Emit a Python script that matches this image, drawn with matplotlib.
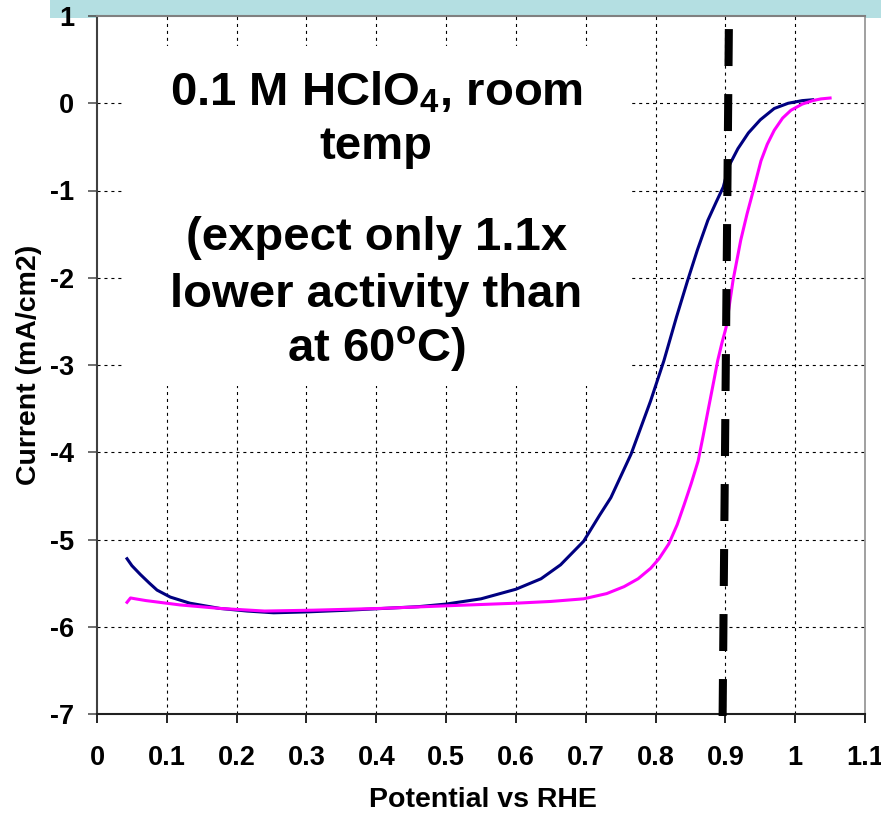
import matplotlib
matplotlib.use("Agg")
import matplotlib.pyplot as plt
from matplotlib.patches import Rectangle

plt.rcParams["font.family"] = ["Liberation Sans", "DejaVu Sans"]
plt.rcParams["font.weight"] = "bold"
plt.rcParams["mathtext.fontset"] = "custom"
plt.rcParams["mathtext.rm"] = "Liberation Sans:bold"
plt.rcParams["mathtext.it"] = "Liberation Sans:bold"
plt.rcParams["mathtext.bf"] = "Liberation Sans:bold"
plt.rcParams["lines.scale_dashes"] = False
plt.rcParams["axes.unicode_minus"] = False

# polarisation curves, potential (V vs RHE) and current (mA/cm2)
navy_x = [0.043, 0.05, 0.062, 0.075, 0.086, 0.105, 0.133, 0.176, 0.215, 0.253,
          0.30, 0.36, 0.41, 0.46, 0.50, 0.55, 0.60, 0.636, 0.664, 0.697,
          0.72, 0.736, 0.765, 0.793, 0.812, 0.83, 0.846, 0.86, 0.875, 0.887,
          0.897, 0.905, 0.918, 0.933, 0.95, 0.97, 0.99, 1.01, 1.025]
navy_y = [-5.22, -5.30, -5.40, -5.50, -5.58, -5.66, -5.73, -5.79, -5.82, -5.84,
          -5.83, -5.81, -5.79, -5.77, -5.74, -5.68, -5.57, -5.45, -5.29, -5.02,
          -4.72, -4.52, -4.02, -3.41, -2.95, -2.45, -2.03, -1.68, -1.34, -1.13,
          -0.96, -0.72, -0.52, -0.34, -0.19, -0.06, 0.0, 0.03, 0.04]

pink_x = [0.043, 0.048, 0.055, 0.07, 0.119, 0.176, 0.24, 0.31, 0.406, 0.50,
          0.60, 0.65, 0.697, 0.73, 0.755, 0.775, 0.793, 0.805, 0.819, 0.831,
          0.841, 0.851, 0.861, 0.868, 0.875, 0.884, 0.889, 0.895, 0.901, 0.906,
          0.911, 0.922, 0.931, 0.940, 0.951, 0.96, 0.970, 0.982, 0.994, 1.01,
          1.025, 1.037, 1.05]
pink_y = [-5.72, -5.67, -5.68, -5.70, -5.75, -5.79, -5.82, -5.81, -5.79, -5.76,
          -5.73, -5.71, -5.68, -5.62, -5.54, -5.45, -5.33, -5.22, -5.05, -4.83,
          -4.60, -4.36, -4.10, -3.82, -3.53, -3.16, -2.95, -2.75, -2.57, -2.30,
          -2.03, -1.57, -1.27, -1.0, -0.66, -0.47, -0.31, -0.17, -0.08, -0.01,
          0.03, 0.05, 0.06]

# reference potential marker (slightly slanted, as hand drawn)
marker_x = [0.905, 0.896]
marker_y = [0.85, -7.07]

x_ticks = [0, 0.1, 0.2, 0.3, 0.4, 0.5, 0.6, 0.7, 0.8, 0.9, 1.0, 1.1]
x_ticklabels = ["0", "0.1", "0.2", "0.3", "0.4", "0.5", "0.6", "0.7", "0.8",
                "0.9", "1", "1.1"]
y_ticks = [-7, -6, -5, -4, -3, -2, -1, 0, 1]

fig = plt.figure(figsize=(8.81, 8.18), dpi=100)

# slide title strip behind the top edge
fig.patches.append(Rectangle((50 / 881, 1 - 18 / 818), 1 - 50 / 881, 18 / 818,
                             transform=fig.transFigure, facecolor="#b4dfe2",
                             edgecolor="none", zorder=-1))

ax = fig.add_axes([97 / 881, 104 / 818, 768 / 881, 698 / 818])
ax.set_xlim(0, 1.1)
ax.set_ylim(-7, 1)

for x in x_ticks[1:-1]:
    ax.axvline(x, color="black", lw=0.8, dashes=(2.2, 2.8), zorder=0.5)
for y in y_ticks[1:-1]:
    ax.axhline(y, color="black", lw=0.8, dashes=(2.2, 2.8), zorder=0.5)

# white text box hides the grid behind the annotation
ax.add_patch(Rectangle((0.040, -3.24), 0.725, 3.895, facecolor="white",
                       edgecolor="none", zorder=1))

ax.plot(navy_x, navy_y, color="#000080", lw=2.2, zorder=3)
ax.plot(pink_x, pink_y, color="#ff00ff", lw=2.2, zorder=3)
ax.plot(marker_x, marker_y, color="black", lw=5.8, dashes=(26.6, 20.2),
        solid_capstyle="butt", zorder=4, clip_on=False)

ann = dict(ha="center", va="baseline", fontsize=34, fontweight="bold", zorder=2)
ax.text(0.4, -0.023, r"0.1 M HClO$_4$, room", **ann)
ax.text(0.4, -0.64, "temp", **ann)
ax.text(0.4, -1.68, "(expect only 1.1x", **ann)
ax.text(0.4, -2.33, "lower activity than", **ann)
ax.text(0.4, -2.96, r"at 60$^o$C)", **ann)

ax.set_xticks(x_ticks)
ax.set_xticklabels(x_ticklabels)
ax.set_yticks(y_ticks)
ax.tick_params(axis="x", direction="out", length=6.5, width=1.2, pad=16,
               labelsize=19.5, colors="black")
ax.tick_params(axis="y", direction="out", length=6.5, width=1.2, pad=10,
               labelsize=19.5, color="#555555", labelcolor="black")
for lab in ax.get_xticklabels() + ax.get_yticklabels():
    lab.set_fontweight("bold")

ax.spines["left"].set_color("#404040")
ax.spines["left"].set_linewidth(1.5)
ax.spines["bottom"].set_color("#202020")
ax.spines["bottom"].set_linewidth(1.5)
ax.spines["top"].set_color("#808080")
ax.spines["top"].set_linewidth(1.5)
ax.spines["right"].set_color("#909090")
ax.spines["right"].set_linewidth(1.2)

ax.set_xlabel("Potential vs RHE", fontsize=20.5, fontweight="bold")
ax.set_ylabel("Current (mA/cm2)", fontsize=20.5, fontweight="bold")
ax.xaxis.set_label_coords(0.502, -0.105)
ax.xaxis.label.set_va("top")
ax.yaxis.set_label_coords(-0.072, 0.5)

fig.savefig("out.png", dpi=100)
